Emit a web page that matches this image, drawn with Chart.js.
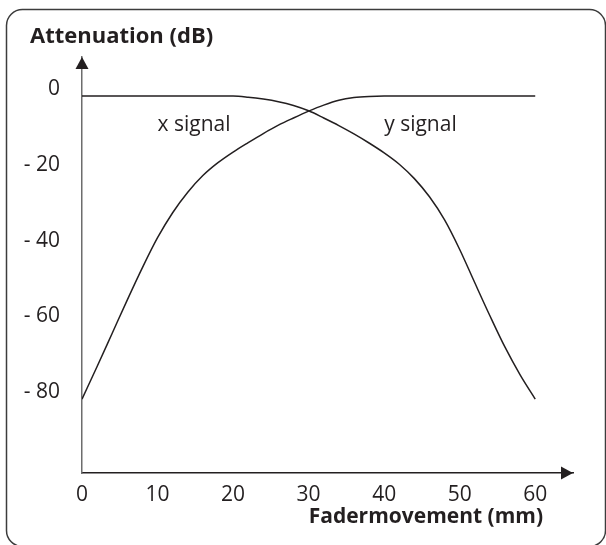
<!DOCTYPE html>
<html>
<head>
<meta charset="utf-8">
<title>Attenuation vs Fadermovement</title>
<script src="https://cdn.jsdelivr.net/npm/chart.js@4.4.1/dist/chart.umd.min.js"></script>
<style>
  html, body { margin: 0; padding: 0; background: #fff; }
  #chart { display: block; }
</style>
</head>
<body>
<canvas id="chart" width="606" height="545"></canvas>
<script>
// fader position in mm
const fadermovement = [0, 2, 4, 6, 8, 10, 12, 14, 16, 18, 20, 22, 24, 26, 28, 30,
  32, 34, 36, 38, 40, 42, 44, 46, 48, 50, 52, 54, 56, 58, 60];

// attenuation in dB, flat first then falling
const xSignal = [0, 0, 0, 0, 0, 0, 0, 0, 0, 0, 0, -0.3, -0.8, -1.5, -2.5, -3.9,
  -5.8, -7.8, -10.0, -12.4, -15.0, -18.0, -21.8, -26.6, -32.7, -40.5, -49.3, -58.0, -66.3, -73.6, -80];

// attenuation in dB, rising first then flat
const ySignal = [-80, -71.4, -62.6, -53.8, -45.3, -37.4, -30.8, -25.4, -21.0, -17.6, -14.8, -12.3, -9.9, -7.7, -5.8, -4.0,
  -2.4, -1.1, -0.4, -0.1, 0, 0, 0, 0, 0, 0, 0, 0, 0, 0, 0];

const xTicks = [0, 10, 20, 30, 40, 50, 60];
const yTicks = [0, -20, -40, -60, -80];

const signalNames = ['x signal', 'y signal'];
const signalNameAt = [[10, -9.2], [40, -9.2]];

const ink = '#231f20';
const font = '"Open Sans", "Noto Sans", sans-serif';

const toPoints = (ys) => fadermovement.map((x, i) => ({ x: x, y: ys[i] }));

const decorations = {
  id: 'decorations',
  beforeDraw(chart) {
    const c = chart.ctx;
    c.save();
    c.strokeStyle = '#3c3c3c';
    c.lineWidth = 1.5;
    c.beginPath();
    c.roundRect(6.5, 9.5, 599, 537, 16);
    c.stroke();
    c.restore();
  },
  afterDraw(chart) {
    const c = chart.ctx;
    const a = chart.chartArea;
    const xs = chart.scales.x;
    const ys = chart.scales.y;
    c.save();
    c.fillStyle = ink;

    // arrow heads
    c.beginPath();
    c.moveTo(a.left, a.top);
    c.lineTo(a.left - 6.5, a.top + 12);
    c.lineTo(a.left + 6.5, a.top + 12);
    c.closePath();
    c.fill();
    c.beginPath();
    c.moveTo(a.right, a.bottom);
    c.lineTo(a.right - 12, a.bottom - 6.5);
    c.lineTo(a.right - 12, a.bottom + 6.5);
    c.closePath();
    c.fill();

    // axis titles
    c.textBaseline = 'alphabetic';
    c.textAlign = 'left';
    c.font = 'bold 22px ' + font;
    c.fillText('Attenuation (dB)', 30, 43);
    c.textAlign = 'right';
    c.font = 'bold 21px ' + font;
    c.fillText('Fadermovement (mm)', 543, 523);

    // curve names
    c.font = '21px ' + font;
    c.textAlign = 'left';
    signalNames.forEach((name, i) => {
      c.fillText(name, xs.getPixelForValue(signalNameAt[i][0]), ys.getPixelForValue(signalNameAt[i][1]));
    });
    c.restore();
  }
};

new Chart(document.querySelector('#chart'), {
  type: 'line',
  data: {
    datasets: [
      {
        label: 'x signal',
        data: toPoints(xSignal),
        borderColor: ink,
        borderWidth: 1.5,
        pointRadius: 0,
        cubicInterpolationMode: 'monotone'
      },
      {
        label: 'y signal',
        data: toPoints(ySignal),
        borderColor: ink,
        borderWidth: 1.5,
        pointRadius: 0,
        cubicInterpolationMode: 'monotone'
      }
    ]
  },
  options: {
    responsive: false,
    animation: false,
    devicePixelRatio: 1,
    layout: { padding: { left: 0, top: 57, right: 33, bottom: 0 } },
    plugins: {
      legend: { display: false },
      tooltip: { enabled: false }
    },
    scales: {
      x: {
        type: 'linear',
        min: 0,
        max: 65,
        grid: { display: false, drawTicks: false },
        border: { display: true, color: ink, width: 1.5 },
        afterBuildTicks: (s) => { s.ticks = xTicks.map(v => ({ value: v })); },
        afterFit: (s) => { s.height = 72; },
        ticks: {
          autoSkip: false,
          maxRotation: 0,
          padding: 9,
          color: ink,
          font: { family: font, size: 21 },
          callback: (v) => String(v)
        }
      },
      y: {
        type: 'linear',
        min: -99.5,
        max: 10.3,
        grid: { display: false, drawTicks: false },
        border: { display: true, color: '#6d6d6d', width: 1.5 },
        afterBuildTicks: (s) => { s.ticks = yTicks.map(v => ({ value: v })); },
        afterFit: (s) => { s.width = 82; },
        ticks: {
          autoSkip: false,
          padding: 22,
          labelOffset: -7,
          color: ink,
          font: { family: font, size: 21 },
          callback: (v) => v === 0 ? '0' : '- ' + Math.abs(v)
        }
      }
    }
  },
  plugins: [decorations]
});
</script>
</body>
</html>
